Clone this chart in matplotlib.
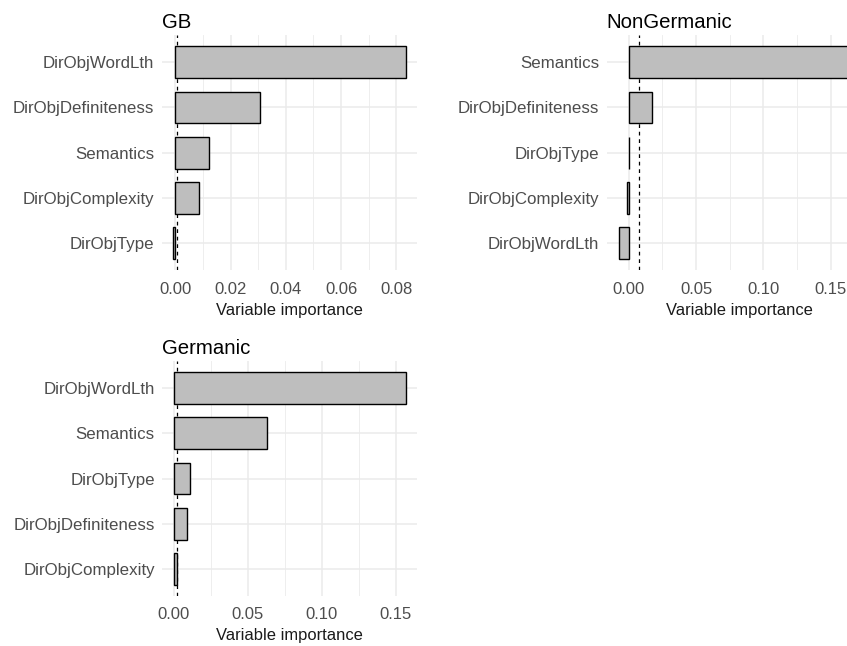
import matplotlib
matplotlib.use("Agg")
import matplotlib.pyplot as plt
import numpy as np

plt.rcParams['font.family'] = ['Liberation Sans', 'DejaVu Sans']

# variable importance per group (top to bottom as plotted)
gb_vars = ["DirObjWordLth", "DirObjDefiniteness", "Semantics", "DirObjComplexity", "DirObjType"]
gb_imp = [0.0834, 0.0307, 0.0122, 0.0087, -0.0007]

ng_vars = ["Semantics", "DirObjDefiniteness", "DirObjType", "DirObjComplexity", "DirObjWordLth"]
ng_imp = [0.171, 0.0174, 0.0002, -0.0010, -0.0074]

ge_vars = ["DirObjWordLth", "Semantics", "DirObjType", "DirObjDefiniteness", "DirObjComplexity"]
ge_imp = [0.1566, 0.0626, 0.0110, 0.0086, 0.0023]

W, H = 847, 646
fig = plt.figure(figsize=(W / 100, H / 100), dpi=100)


def panel(x0, y0, px_per_unit, y1, title, names, vals, major, minor):
    vals = np.array(vals)
    lo = min(vals.min(), 0)
    hi = max(vals.max(), 0)
    pad = 0.05 * (hi - lo)
    xlim = (lo - pad, hi + pad)
    width = (xlim[1] - xlim[0]) * px_per_unit
    ax = fig.add_axes([x0 / W, 1 - y1 / H, width / W, (y1 - y0) / H])
    n = len(names)
    ypos = np.arange(n, 0, -1)
    ax.set_xlim(xlim)
    ax.set_ylim(0.4, n + 0.6)
    ax.set_xticks(major)
    ax.set_xticks(minor, minor=True)
    ax.set_xticklabels([f"{t:.2f}" for t in major])
    ax.set_yticks(ypos)
    ax.set_yticklabels(names)
    ax.grid(True, which='major', color='#EBEBEB', linewidth=1.1, zorder=0)
    ax.grid(True, which='minor', axis='x', color='#EBEBEB', linewidth=0.6,
            zorder=0)
    ax.set_axisbelow(True)
    # cut-off line at |min importance|, drawn under the bars
    ax.axvline(abs(vals.min()), color='black', linestyle=(0, (3, 3)),
               linewidth=0.9, zorder=1)
    ax.barh(ypos, vals, height=0.7, color='#BEBEBE', edgecolor='black',
            linewidth=1.0, zorder=2)
    for s in ax.spines.values():
        s.set_visible(False)
    ax.tick_params(which='both', length=0)
    ax.tick_params(axis='y', labelsize=12.2, labelcolor='#4D4D4D', pad=5.5)
    ax.tick_params(axis='x', labelsize=12, labelcolor='#4D4D4D', pad=8)
    ax.set_xlabel("Variable importance", fontsize=11.9, color='#1a1a1a',
                  labelpad=4.5)
    ax.set_title(title, loc='left', fontsize=14.7, color='black', pad=5)
    return ax


panel(161.8, 35, 2762, 270.5, "GB", gb_vars, gb_imp,
      [0, 0.02, 0.04, 0.06, 0.08], [0.01, 0.03, 0.05, 0.07])
panel(606.7, 35, 1348, 270.5, "NonGermanic", ng_vars, ng_imp,
      [0, 0.05, 0.10, 0.15], [0.025, 0.075, 0.125, 0.175])
panel(162.4, 361, 1480, 596, "Germanic", ge_vars, ge_imp,
      [0, 0.05, 0.10, 0.15], [0.025, 0.075, 0.125])

fig.savefig("out.png", dpi=100)
